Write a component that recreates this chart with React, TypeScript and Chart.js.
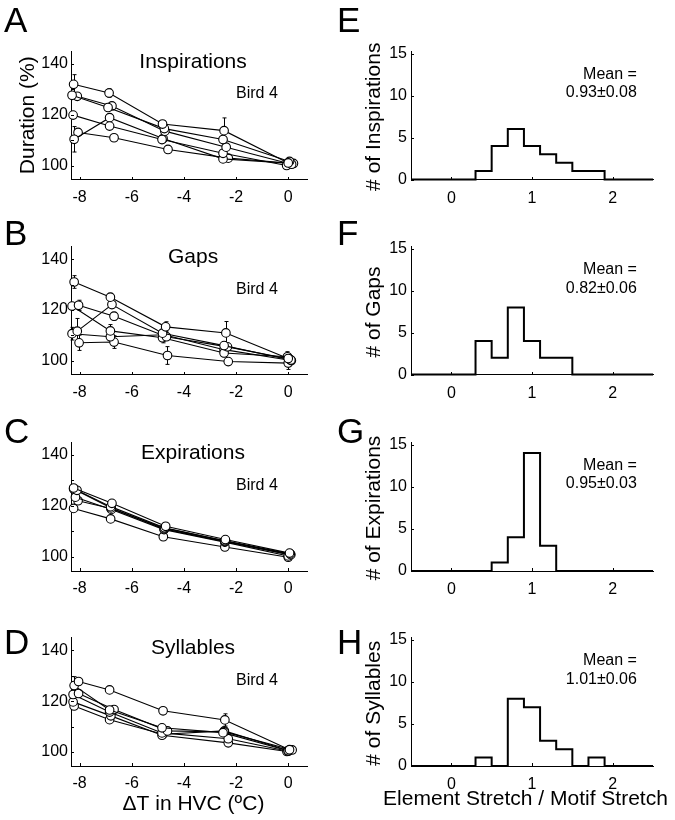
import React, { useEffect, useRef } from "react";
import { Chart, registerables } from "chart.js";

Chart.register(...registerables);

const FONT = '"Liberation Sans", Arial, Helvetica, sans-serif';
Chart.defaults.font.family = FONT;
Chart.defaults.color = "#000";

// ---------- Left column: Duration (%) vs ΔT in HVC ----------
const tempTicks = [-8, -6, -4, -2, 0];
const durationTicks = [100, 110, 120, 130, 140];
const durationTickLabels = ["100", "", "120", "", "140"];

const inspTemp = [
  [-8.23, -6.87, -4.82, -2.46, 0.0],
  [-8.29, -6.91, -4.75, -2.5, 0.05],
  [-8.09, -6.76, -4.73, -2.38, 0.13],
  [-8.25, -6.85, -4.84, -2.5, -0.06],
  [-8.21, -6.85, -4.8, -2.5, 0.0],
  [-8.06, -6.68, -4.61, -2.3, 0.2],
];
const inspDur = [
  [131.9, 128.5, 116.3, 113.7, 101.0],
  [127.6, 122.8, 114.5, 110.2, 101.6],
  [127.2, 123.4, 113.5, 107.2, 100.5],
  [119.8, 115.5, 110.2, 104.8, 100.0],
  [110.3, 118.8, 110.6, 102.6, 100.9],
  [113.0, 110.9, 106.3, 102.9, 100.8],
];
const inspErr = [
  [3.8, 1.7, 1.2, 5.0, 0.8],
  [1.0, 1.0, 0.8, 1.0, 0.6],
  [1.0, 1.0, 0.8, 1.0, 0.6],
  [1.2, 1.0, 0.8, 1.0, 0.6],
  [5.0, 1.0, 0.8, 0.8, 0.6],
  [1.2, 0.8, 0.8, 0.8, 0.6],
];

const gapTemp = [
  [-8.21, -6.82, -4.7, -2.39, 0.0],
  [-8.09, -6.76, -4.82, -2.46, 0.1],
  [-8.04, -6.68, -4.67, -2.33, 0.05],
  [-8.29, -6.82, -4.82, -2.46, -0.03],
  [-8.29, -6.82, -4.76, -2.46, 0.12],
  [-8.02, -6.68, -4.63, -2.3, 0.0],
];
const gapDur = [
  [131.0, 125.0, 113.3, 110.9, 100.8],
  [111.6, 122.1, 110.8, 105.9, 100.2],
  [121.8, 117.5, 109.4, 105.4, 100.6],
  [121.5, 111.7, 109.0, 103.0, 101.5],
  [110.6, 109.4, 110.2, 104.3, 100.0],
  [107.0, 107.3, 102.0, 99.6, 99.0],
];
const gapErr = [
  [2.5, 1.5, 2.0, 4.5, 1.0],
  [5.0, 1.2, 1.0, 1.5, 1.0],
  [2.0, 1.5, 1.0, 1.0, 1.0],
  [1.2, 2.5, 2.0, 1.5, 2.0],
  [2.5, 1.5, 1.0, 1.0, 1.0],
  [3.0, 2.5, 3.5, 1.0, 2.5],
];

const expTemp = [
  [-8.23, -6.76, -4.7, -2.41, 0.05],
  [-8.1, -6.81, -4.74, -2.43, 0.08],
  [-8.23, -6.79, -4.76, -2.43, 0.1],
  [-8.16, -6.78, -4.76, -2.43, 0.0],
  [-8.06, -6.8, -4.73, -2.4, 0.07],
  [-8.23, -6.81, -4.79, -2.43, 0.0],
];
const expDur = [
  [127.0, 121.0, 112.0, 106.8, 101.5],
  [126.1, 119.7, 111.4, 106.3, 101.2],
  [126.6, 119.2, 111.0, 106.0, 100.9],
  [123.4, 118.6, 110.7, 105.8, 100.4],
  [122.0, 119.0, 111.2, 106.2, 100.8],
  [119.0, 114.9, 107.9, 103.9, 99.9],
];
const expErr = [
  [0.6, 0.6, 0.6, 0.6, 0.6],
  [0.6, 0.6, 0.6, 0.6, 0.6],
  [0.6, 0.6, 0.6, 0.6, 0.6],
  [0.6, 0.6, 0.6, 0.6, 0.6],
  [0.6, 0.6, 0.6, 0.6, 0.6],
  [0.6, 0.6, 0.6, 0.6, 0.6],
];

const sylTemp = [
  [-8.04, -6.85, -4.8, -2.43, 0.05],
  [-8.21, -6.85, -4.84, -2.5, 0.0],
  [-8.04, -6.68, -4.63, -2.45, 0.15],
  [-8.25, -6.85, -4.84, -2.3, 0.0],
  [-8.25, -6.8, -4.84, -2.3, -0.05],
  [-8.21, -6.85, -4.8, -2.45, 0.0],
];
const sylDur = [
  [127.7, 124.4, 116.2, 112.6, 100.9],
  [126.1, 116.5, 109.5, 107.6, 100.5],
  [123.0, 116.7, 108.3, 107.9, 100.8],
  [122.6, 115.7, 107.5, 105.2, 100.3],
  [119.7, 114.2, 106.6, 103.6, 100.2],
  [118.1, 112.7, 107.0, 108.3, 100.6],
];
const sylErr = [
  [1.0, 1.0, 0.8, 2.4, 0.6],
  [3.5, 1.0, 0.8, 1.0, 0.6],
  [1.0, 1.0, 0.8, 1.2, 0.6],
  [1.0, 1.0, 0.8, 1.0, 0.6],
  [1.0, 1.0, 0.8, 1.0, 0.6],
  [1.0, 1.0, 0.8, 1.2, 0.6],
];

// ---------- Right column: histograms of Element Stretch / Motif Stretch ----------
const stretchTicks = [0, 1, 2];
const countTicks = [0, 5, 10, 15];
const binEdges = [-0.5, -0.3, -0.1, 0.1, 0.3, 0.5, 0.7, 0.9, 1.1, 1.3, 1.5, 1.7, 1.9, 2.1, 2.3, 2.5];
const inspCounts = [0, 0, 0, 0, 1, 4, 6, 4, 3, 2, 1, 1, 0, 0, 0];
const gapCounts = [0, 0, 0, 0, 4, 2, 8, 4, 2, 2, 0, 0, 0, 0, 0];
const expCounts = [0, 0, 0, 0, 0, 1, 4, 14, 3, 0, 0, 0, 0, 0, 0];
const sylCounts = [0, 0, 0, 0, 1, 0, 8, 7, 3, 2, 0, 1, 0, 0, 0];
const meanTexts = ["0.93±0.08", "0.82±0.06", "0.95±0.03", "1.01±0.06"];

// ---------- Layout ----------
const W = 675;
const H = 820;
const Y_W = 40;
const X_H = 30;
const rows = [
  { top: 51, bottom: 179.5, letterY: 32 },
  { top: 246.5, bottom: 374.5, letterY: 244.5 },
  { top: 442, bottom: 571, letterY: 443 },
  { top: 637.5, bottom: 766, letterY: 654 },
];
const LEFT = { l: 71, r: 307 };
const RIGHT = { l: 411, r: 653 };

type TextItem = {
  text: string;
  x: number;
  y: number;
  size: number;
  align?: CanvasTextAlign;
  baseline?: CanvasTextBaseline;
  rotate?: number;
  data?: boolean;
};

function textPlugin(items: TextItem[]) {
  return {
    id: "panelText",
    afterDraw(chart: any) {
      const ctx = chart.ctx;
      for (const it of items) {
        let x = it.x;
        let y = it.y;
        if (it.data) {
          x = chart.scales.x.getPixelForValue(it.x);
          y = chart.scales.y.getPixelForValue(it.y);
        }
        ctx.save();
        ctx.font = `${it.size}px ${FONT}`;
        ctx.fillStyle = "#000";
        ctx.textAlign = it.align ?? "left";
        ctx.textBaseline = it.baseline ?? "alphabetic";
        ctx.translate(x, y);
        if (it.rotate) ctx.rotate(it.rotate);
        ctx.fillText(it.text, 0, 0);
        ctx.restore();
      }
    },
  };
}

const inwardTicks = {
  id: "inwardTicks",
  afterDraw(chart: any) {
    const { ctx, chartArea } = chart;
    const xs = chart.scales.x;
    const ys = chart.scales.y;
    ctx.save();
    ctx.strokeStyle = "#000";
    ctx.lineWidth = 1;
    ctx.beginPath();
    xs.ticks.forEach((t: any) => {
      const px = Math.round(xs.getPixelForValue(t.value)) + 0.5;
      ctx.moveTo(px, Math.round(chartArea.bottom));
      ctx.lineTo(px, Math.round(chartArea.bottom) - 3);
    });
    ys.ticks.forEach((t: any) => {
      const py = Math.round(ys.getPixelForValue(t.value)) + 0.5;
      ctx.moveTo(Math.round(chartArea.left), py);
      ctx.lineTo(Math.round(chartArea.left) + 3, py);
    });
    ctx.stroke();
    ctx.restore();
  },
};

function errorBarPlugin(errs: number[][]) {
  return {
    id: "errorBars",
    beforeDatasetsDraw(chart: any) {
      const ctx = chart.ctx;
      const xs = chart.scales.x;
      const ys = chart.scales.y;
      ctx.save();
      ctx.strokeStyle = "#000";
      ctx.lineWidth = 1;
      chart.data.datasets.forEach((ds: any, i: number) => {
        ds.data.forEach((p: any, j: number) => {
          const e = errs[i][j];
          const px = Math.round(xs.getPixelForValue(p.x)) + 0.5;
          const t = ys.getPixelForValue(p.y + e);
          const b = ys.getPixelForValue(p.y - e);
          ctx.beginPath();
          ctx.moveTo(px, t);
          ctx.lineTo(px, b);
          ctx.moveTo(px - 2, t);
          ctx.lineTo(px + 2, t);
          ctx.moveTo(px - 2, b);
          ctx.lineTo(px + 2, b);
          ctx.stroke();
        });
      });
      ctx.restore();
    },
  };
}

function axisBase(min: number, max: number, values: number[], labels: (v: number, i: number) => string, isX: boolean, pad: number) {
  return {
    type: "linear",
    min,
    max,
    afterFit: (s: any) => {
      if (isX) s.height = X_H;
      else s.width = Y_W;
    },
    afterBuildTicks: (s: any) => {
      s.ticks = values.map((v) => ({ value: v }));
    },
    grid: { display: false, drawTicks: false },
    border: { display: true, color: "#000", width: 1 },
    ticks: {
      color: "#000",
      font: { family: FONT, size: 16 },
      padding: pad,
      autoSkip: false,
      maxRotation: 0,
      callback: (v: any, i: number) => labels(v, i),
    },
  };
}

type LinePanel = {
  letter: string;
  title: string;
  temps: number[][];
  durs: number[][];
  errs: number[][];
  row: number;
  yTitle?: string;
  xTitle?: string;
};

const linePanels: LinePanel[] = [
  { letter: "A", title: "Inspirations", temps: inspTemp, durs: inspDur, errs: inspErr, row: 0, yTitle: "Duration (%)" },
  { letter: "B", title: "Gaps", temps: gapTemp, durs: gapDur, errs: gapErr, row: 1 },
  { letter: "C", title: "Expirations", temps: expTemp, durs: expDur, errs: expErr, row: 2 },
  { letter: "D", title: "Syllables", temps: sylTemp, durs: sylDur, errs: sylErr, row: 3, xTitle: "ΔT in HVC (ºC)" },
];

type HistPanel = {
  letter: string;
  yTitle: string;
  counts: number[];
  mean: string;
  row: number;
  xTitle?: string;
};

const histPanels: HistPanel[] = [
  { letter: "E", yTitle: "# of Inspirations", counts: inspCounts, mean: meanTexts[0], row: 0 },
  { letter: "F", yTitle: "# of Gaps", counts: gapCounts, mean: meanTexts[1], row: 1 },
  { letter: "G", yTitle: "# of Expirations", counts: expCounts, mean: meanTexts[2], row: 2 },
  { letter: "H", yTitle: "# of Syllables", counts: sylCounts, mean: meanTexts[3], row: 3, xTitle: "Element Stretch / Motif Stretch" },
];

function layoutFor(col: { l: number; r: number }, row: number) {
  const r = rows[row];
  return {
    autoPadding: false,
    padding: { left: col.l - Y_W, top: r.top, right: W - col.r, bottom: H - r.bottom - X_H },
  };
}

function lineConfig(p: LinePanel): any {
  const r = rows[p.row];
  const items: TextItem[] = [
    { text: p.letter, x: 4, y: r.letterY, size: 35 },
    { text: p.title, x: -3.65, y: 138.4, size: 21, align: "center", data: true },
    { text: "Bird 4", x: -2.0, y: 126.4, size: 16, data: true },
  ];
  if (p.yTitle) items.push({ text: p.yTitle, x: 28, y: (r.top + r.bottom) / 2, size: 21, align: "center", baseline: "middle", rotate: -Math.PI / 2 });
  if (p.xTitle) items.push({ text: p.xTitle, x: 193.5, y: 810, size: 21, align: "center" });
  return {
    type: "scatter",
    data: {
      datasets: p.temps.map((xs, i) => ({
        data: xs.map((x, j) => ({ x, y: p.durs[i][j] })),
        showLine: true,
        borderColor: "#000",
        borderWidth: 1.1,
        pointRadius: 4.3,
        pointBackgroundColor: "#fff",
        pointBorderColor: "#000",
        pointBorderWidth: 1.1,
        clip: false,
      })),
    },
    options: {
      animation: false,
      responsive: false,
      events: [],
      layout: layoutFor(LEFT, p.row),
      plugins: { legend: { display: false }, tooltip: { enabled: false } },
      scales: {
        x: axisBase(-8.33, 0.72, tempTicks, (v) => String(v), true, 8),
        y: axisBase(94.5, 145, durationTicks, (_v, i) => durationTickLabels[i], false, 3),
      },
    },
    plugins: [errorBarPlugin(p.errs), inwardTicks, textPlugin(items)],
  };
}

function histConfig(p: HistPanel): any {
  const r = rows[p.row];
  const items: TextItem[] = [
    { text: p.letter, x: 337, y: r.letterY, size: 35 },
    { text: "Mean =", x: 2.3, y: 12.0, size: 16, align: "right", data: true },
    { text: p.mean, x: 2.3, y: 9.8, size: 16, align: "right", data: true },
    { text: p.yTitle, x: 374, y: (r.top + r.bottom) / 2 + 1.5, size: 21, align: "center", baseline: "middle", rotate: -Math.PI / 2 },
  ];
  if (p.xTitle) items.push({ text: p.xTitle, x: 525.5, y: 805, size: 21, align: "center" });
  return {
    type: "scatter",
    data: {
      datasets: [
        {
          data: binEdges.map((e, i) => ({ x: e, y: p.counts[Math.min(i, p.counts.length - 1)] })),
          showLine: true,
          stepped: "before",
          borderColor: "#000",
          borderWidth: 2,
          borderJoinStyle: "miter",
          pointRadius: 0,
          clip: false,
        },
      ],
    },
    options: {
      animation: false,
      responsive: false,
      events: [],
      layout: layoutFor(RIGHT, p.row),
      plugins: { legend: { display: false }, tooltip: { enabled: false } },
      scales: {
        x: axisBase(-0.5, 2.5, stretchTicks, (v) => String(v), true, 9),
        y: axisBase(0, 15.3, countTicks, (v) => String(v), false, 4),
      },
    },
    plugins: [inwardTicks, textPlugin(items)],
  };
}

function PanelCanvas({ config }: { config: () => any }) {
  const ref = useRef<HTMLCanvasElement | null>(null);
  useEffect(() => {
    if (!ref.current) return;
    const chart = new Chart(ref.current, config());
    return () => chart.destroy();
  }, []);
  return (
    <canvas
      ref={ref}
      width={W}
      height={H}
      style={{ position: "absolute", left: 0, top: 0, width: W, height: H }}
    />
  );
}

export default function App() {
  return (
    <div style={{ position: "absolute", left: 0, top: 0, width: W, height: H, background: "#fff", overflow: "hidden" }}>
      {linePanels.map((p) => (
        <PanelCanvas key={p.letter} config={() => lineConfig(p)} />
      ))}
      {histPanels.map((p) => (
        <PanelCanvas key={p.letter} config={() => histConfig(p)} />
      ))}
    </div>
  );
}
